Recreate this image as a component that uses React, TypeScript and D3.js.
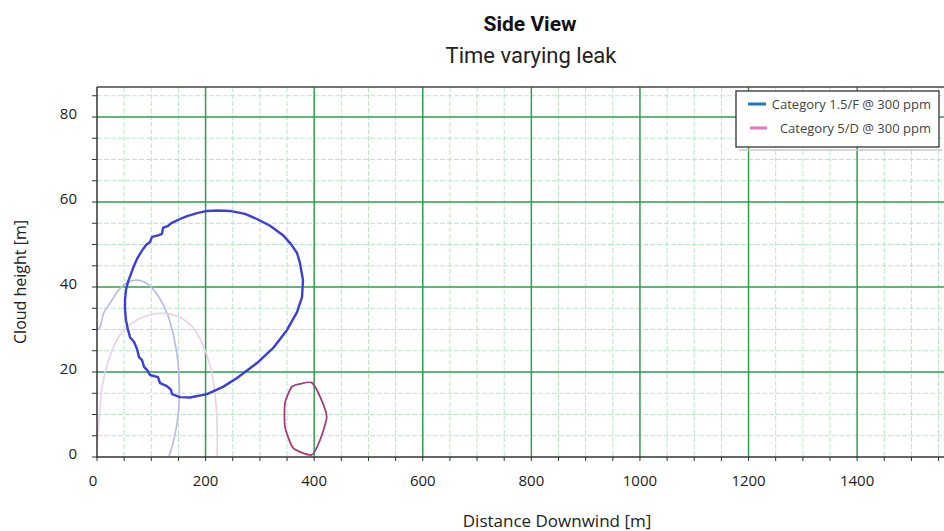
import React from "react";
import * as d3 from "d3";

const W = 944;
const H = 531;

const xTicks = [0, 200, 400, 600, 800, 1000, 1200, 1400];
const yTicks = [0, 20, 40, 60, 80];

// Category 1.5/F @ 300 ppm - main closed cloud outline (distance m, height m)
const blueLoop: [number, number][] = [
  [51.6, 36.9], [53.4, 39.3], [57.1, 41.2], [62.6, 43.1], [68.1, 45.0], [73.7, 46.6],
  [79.2, 47.8], [84.7, 48.9], [90.3, 49.9], [97.6, 50.6], [101.3, 51.8], [114.2, 52.2],
  [119.7, 52.5], [121.6, 53.9], [130.8, 54.4], [138.1, 55.1], [152.9, 56.0], [165.8, 56.7],
  [184.2, 57.4], [202.6, 57.9], [222.9, 58.0], [245.0, 57.9], [272.6, 57.2], [294.7, 56.0],
  [318.7, 54.4], [342.6, 52.2], [357.3, 50.1], [368.4, 48.0], [373.9, 45.6], [379.4, 41.6],
  [377.6, 37.6], [368.4, 34.1], [350.0, 29.9], [324.2, 25.6], [294.7, 22.1], [257.9, 18.6],
  [232.1, 16.5], [202.6, 14.8], [171.3, 14.0], [152.9, 14.1], [138.1, 14.8], [136.3, 15.8],
  [128.9, 16.7], [116.0, 17.4], [112.4, 18.8], [97.6, 19.3], [92.1, 20.5], [86.6, 21.2],
  [82.9, 22.8], [77.4, 23.5], [73.7, 25.4], [68.1, 27.1], [60.8, 28.2], [57.1, 29.9],
  [53.4, 32.2], [51.6, 34.6],
];

// faint earlier-time outlines
const lavenderCurve: [number, number][] = [
  [0, 29.9], [5.5, 30.6], [12.4, 33.9], [24, 36.2], [40, 39.3], [58.4, 41.2], [76.9, 41.6],
  [95.3, 40.5], [113.7, 37.7], [129, 33.9], [141.4, 28.3], [149.3, 22.1], [151.7, 14.2],
  [147.5, 8], [138.2, 2.4], [132, 0],
];

const pinkCurve: [number, number][] = [
  [0, 2.8], [5.5, 11.1], [9.2, 16.5], [21.6, 22.8], [40, 28.3], [64.5, 31.5], [95.3, 33.4],
  [123, 33.8], [150.6, 33], [175, 30.7], [193.5, 26.8], [208.8, 21.2], [218, 14.2],
  [221.2, 7.1], [221.2, 0],
];

// Category 5/D @ 300 ppm - small closed cloud
const magentaLoop: [number, number][] = [
  [358.6, 16.5], [373.9, 17.2], [395.5, 17.5], [410.8, 14.2], [423.1, 9.5], [410.8, 4.0],
  [395.5, 0.5], [361.6, 2.1], [346.3, 7.1], [346.3, 12.7],
];

const legendItems = ["Category 1.5/F @ 300 ppm", "Category 5/D @ 300 ppm"];
const legendColors = ["#1f77b4", "#e377c2"];

export default function App() {
  const left = 97;
  const right = 944;
  const top = 87;
  const bottom = 457;

  const x = d3.scaleLinear().domain([0, 1560]).range([left, right]);
  const y = d3.scaleLinear().domain([0, 87.06]).range([bottom, top]);

  const minorX = d3.range(0, 1561, 50).filter((v) => v % 200 !== 0);
  const minorY = d3.range(0, 87, 5).filter((v) => v % 20 !== 0);
  const allTickX = d3.range(0, 1561, 50);
  const allTickY = d3.range(0, 87, 5);

  const lineClosed = d3
    .line<[number, number]>()
    .x((d) => x(d[0]))
    .y((d) => y(d[1]))
    .curve(d3.curveLinearClosed);
  const lineSmooth = d3
    .line<[number, number]>()
    .x((d) => x(d[0]))
    .y((d) => y(d[1]))
    .curve(d3.curveCatmullRom);
  const magentaPath = d3
    .line<[number, number]>()
    .x((d) => x(d[0]))
    .y((d) => y(d[1]))
    .curve(d3.curveCardinalClosed.tension(0.4));

  const font = "'Open Sans', Roboto, sans-serif";

  return (
    <svg
      width={W}
      height={H}
      style={{ position: "absolute", left: 0, top: 0, background: "#fff" }}
      fontFamily={font}
    >
      <defs>
        <clipPath id="plotclip">
          <rect x={left} y={top} width={right - left} height={bottom - top} />
        </clipPath>
      </defs>
      <rect x={0} y={0} width={W} height={H} fill="#fff" />

      {/* title */}
      <text x={530} y={31} textAnchor="middle" fontSize={21} fontWeight="bold" fill="#111" fontFamily="Roboto, sans-serif">
        Side View
      </text>
      <text x={531} y={63} textAnchor="middle" fontSize={22} fill="#222" fontFamily="Roboto, sans-serif">
        Time varying leak
      </text>

      {/* grid */}
      <g>
        {minorX.map((v) => (
          <line key={"mx" + v} x1={x(v)} x2={x(v)} y1={top} y2={bottom} stroke="#b9e6c5" strokeWidth={1} strokeDasharray="5,2" />
        ))}
        {minorY.map((v) => (
          <line key={"my" + v} x1={left} x2={right} y1={y(v)} y2={y(v)} stroke="#b9e6c5" strokeWidth={1} strokeDasharray="5,2" />
        ))}
        {xTicks.filter((v) => v > 0).map((v) => (
          <line key={"Mx" + v} x1={x(v)} x2={x(v)} y1={top} y2={bottom} stroke="#2f9e4e" strokeWidth={1.5} />
        ))}
        {yTicks.filter((v) => v > 0).map((v) => (
          <line key={"My" + v} x1={left} x2={right} y1={y(v)} y2={y(v)} stroke="#2f9e4e" strokeWidth={1.5} />
        ))}
      </g>

      {/* curves */}
      <g clipPath="url(#plotclip)" fill="none">
        <path d={lineSmooth(lavenderCurve) || ""} stroke="#b7b9e2" strokeWidth={1.6} />
        <path d={lineSmooth(pinkCurve) || ""} stroke="#ead0ea" strokeWidth={1.6} />
        <path d={lineClosed(blueLoop) || ""} stroke="#3c3fd6" strokeWidth={2.4} strokeLinejoin="round" />
        <path d={magentaPath(magentaLoop) || ""} stroke="#a13c7e" strokeWidth={1.8} />
      </g>

      {/* axes */}
      <line x1={left} x2={right} y1={top} y2={top} stroke="#444" strokeWidth={1.5} />
      <line x1={left} x2={left} y1={top} y2={bottom + 1} stroke="#333" strokeWidth={1.5} />
      <line x1={left} x2={right} y1={bottom} y2={bottom} stroke="#333" strokeWidth={1.5} />
      {allTickX.map((v) => (
        <line key={"tx" + v} x1={x(v)} x2={x(v)} y1={bottom} y2={bottom + 4} stroke="#333" strokeWidth={1} />
      ))}
      {allTickY.map((v) => (
        <line key={"ty" + v} x1={left - 5} x2={left} y1={y(v)} y2={y(v)} stroke="#333" strokeWidth={1} />
      ))}

      {/* tick labels */}
      {xTicks.map((v) => (
        <text key={"lx" + v} x={x(v) - (v === 0 ? 4 : 0)} y={486} textAnchor="middle" fontSize={15} fill="#222">
          {v}
        </text>
      ))}
      {yTicks.map((v) => (
        <text key={"ly" + v} x={77} y={y(v) + 2} textAnchor="end" fontSize={15} fill="#222">
          {v}
        </text>
      ))}

      {/* axis titles */}
      <text x={557} y={527} textAnchor="middle" fontSize={17} fill="#222">
        Distance Downwind [m]
      </text>
      <text
        transform={`translate(26, ${282}) rotate(-90)`}
        textAnchor="middle"
        fontSize={16}
        fill="#222"
      >
        Cloud height [m]
      </text>

      {/* legend */}
      <line x1={739} x2={942} y1={150} y2={150} stroke="#c8c8c8" strokeWidth={1.5} />
      <rect x={736} y={91} width={203} height={56} fill="#fff" stroke="#333" strokeWidth={1.3} />
      {legendItems.map((t, i) => (
        <g key={t}>
          <line x1={748 + i * 2} x2={766 + i * 1} y1={104 + i * 24} y2={104 + i * 24} stroke={legendColors[i]} strokeWidth={3} />
          <text x={931} y={109 + i * 24} textAnchor="end" fontSize={13} fill="#444">
            {t}
          </text>
        </g>
      ))}
    </svg>
  );
}
